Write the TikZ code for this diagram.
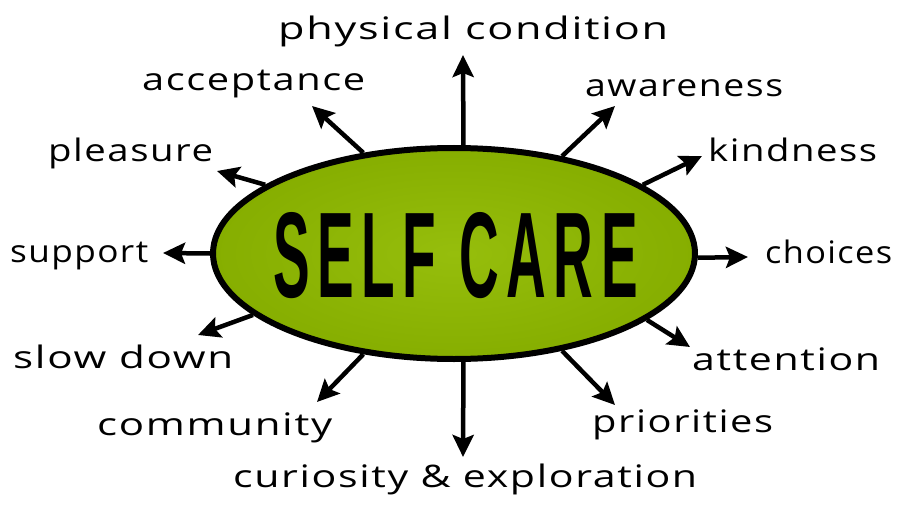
\documentclass[tikz,border=0pt]{standalone}
\usepackage{fontspec}
\usepackage{graphicx}
\usetikzlibrary{shapes.geometric,arrows.meta}
\newfontfamily\handfont[LetterSpace=4]{Open Sans}
\newfontfamily\titlefont[LetterSpace=14]{Liberation Sans}
\definecolor{selfgreen}{RGB}{141,182,0}
\definecolor{selfgreenin}{RGB}{150,190,12}
\definecolor{selfgreenout}{RGB}{134,174,0}
\newcommand{\fitw}[2]{\resizebox{#1pt}{\height}{#2}}
\begin{document}
\begin{tikzpicture}[x=1pt,y=-1pt,
	arr/.style={line width=4.5pt,-{Stealth[length=22pt,width=21pt,inset=4pt]}},
	lbl/.style={inner sep=0pt,anchor=base west,font=\handfont\fontsize{31}{36}\selectfont}]
\path[use as bounding box,fill=white] (0,0) rectangle (900,508);
%\draw[gray,help lines] (0,0) grid[step=50] (900,508);
\node[ellipse,draw,line width=6pt,inner color=selfgreenin,outer color=selfgreenout,minimum width=482pt,minimum height=211pt,inner sep=0pt] (care) at (454,253.5) {};
\node[inner sep=0pt] (title) at (455.5,255.5) {\titlefont\bfseries\resizebox{365pt}{85pt}{SELF CARE}};
% tips of the arrows
\coordinate (tphysical) at (463,55);
\coordinate (tacceptance) at (312,106);
\coordinate (tpleasure) at (217,171);
\coordinate (tsupport) at (163,253);
\coordinate (tslow) at (198,335);
\coordinate (tcommunity) at (317,402);
\coordinate (tcuriosity) at (463,457);
\coordinate (tpriorities) at (615,405);
\coordinate (tattention) at (690,347);
\coordinate (tchoices) at (748,257);
\coordinate (tkindness) at (702,156);
\coordinate (tawareness) at (615,106);
\draw[arr] (care.85) -- (tphysical);
\draw[arr] (care.132) -- (tacceptance);
\draw[arr] (care.160) -- (tpleasure);
\draw[arr] (care.180) -- (tsupport);
\draw[arr] (care.197) -- (tslow);
\draw[arr] (care.228) -- (tcommunity);
\draw[arr] (care.275) -- (tcuriosity);
\draw[arr] (care.318) -- (tpriorities);
\draw[arr] (care.341) -- (tattention);
\draw[arr] (care.359) -- (tchoices);
\draw[arr] (care.20) -- (tkindness);
\draw[arr] (care.42) -- (tawareness);
% labels
\node[lbl] (physical) at (278,40) {\fitw{390}{physical condition}};
\node[lbl] (acceptance) at (142,91) {\fitw{223}{acceptance}};
\node[lbl] (pleasure) at (48,162) {\fitw{165}{pleasure}};
\node[lbl] (support) at (10,262) {\fitw{138}{support}};
\node[lbl] (slow) at (13,368) {\fitw{220}{slow down}};
\node[lbl] (community) at (97,435) {\fitw{235}{community}};
\node[lbl] (curiosity) at (233,487) {\fitw{464}{curiosity \& exploration}};
\node[lbl] (priorities) at (592,432) {\fitw{181}{priorities}};
\node[lbl] (attention) at (692,370) {\fitw{188}{attention}};
\node[lbl] (choices) at (765,263) {\fitw{127}{choices}};
\node[lbl] (kindness) at (708,161) {\fitw{169}{kindness}};
\node[lbl] (awareness) at (585,97) {\fitw{198}{awareness}};
\end{tikzpicture}
\end{document}
